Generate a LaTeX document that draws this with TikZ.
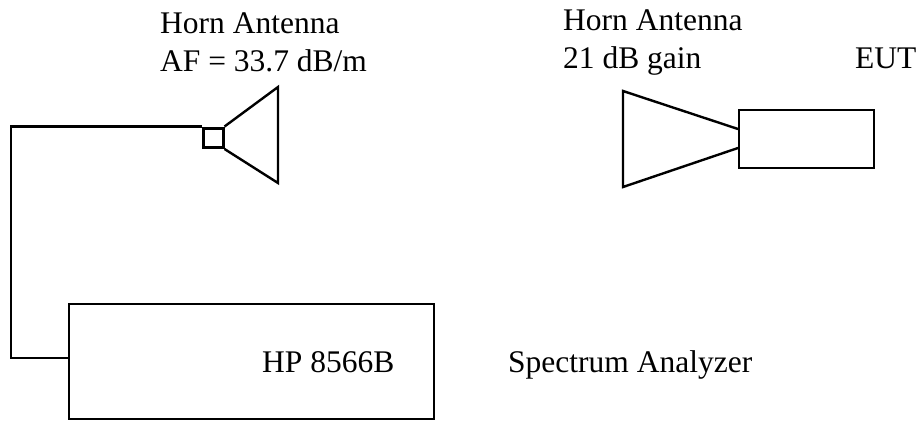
\documentclass[tikz,border=0pt]{standalone}
\usepackage{fontspec}
\setmainfont{Liberation Serif}
\tikzset{
  ln/.style={draw=black,line width=2.4pt,line join=miter},
  thick box/.style={draw=black,line width=3pt},
  lbl/.style={font=\fontsize{31.5pt}{36pt}\selectfont,text=black,inner sep=0pt,anchor=base west,align=left},
}
\begin{document}
\begin{tikzpicture}[x=1pt,y=-1pt]
\useasboundingbox (0,0) rectangle (918,421);
\node[ln,minimum width=365pt,minimum height=115.5pt,inner sep=0pt,anchor=north west] (sa) at (68,302.5) {};
\node[thick box,minimum width=19.5pt,minimum height=19.5pt,inner sep=0pt,anchor=north west] (cp) at (202,126.5) {};
\draw[ln] (cp.north east) -- (278,87) -- (278,183) -- (cp.south east);
\coordinate (c1) at (11,126.5);
\coordinate (c2) at (11,358);
\coordinate (sal) at (68,358);
\draw[ln] (cp.north west) -- (c1) -- (c2) -- (sal);
\draw[ln] (738,129) -- (623,91) -- (623,187) -- (738,148);
\node[ln,minimum width=135pt,minimum height=58.5pt,inner sep=0pt,anchor=north west] (eut) at (738,108.5) {};
\node[lbl] (t1) at (160,33) {Horn Antenna};
\node[lbl] (t2) at (160,71) {AF = 33.7 dB/m};
\node[lbl] (t3) at (563,30) {Horn Antenna};
\node[lbl] (t4) at (563,68) {21 dB gain};
\node[lbl] (t5) at (855,68) {EUT};
\node[lbl] (t6) at (262,372) {HP 8566B};
\node[lbl] (t7) at (508,372) {Spectrum Analyzer};
\end{tikzpicture}
\end{document}
